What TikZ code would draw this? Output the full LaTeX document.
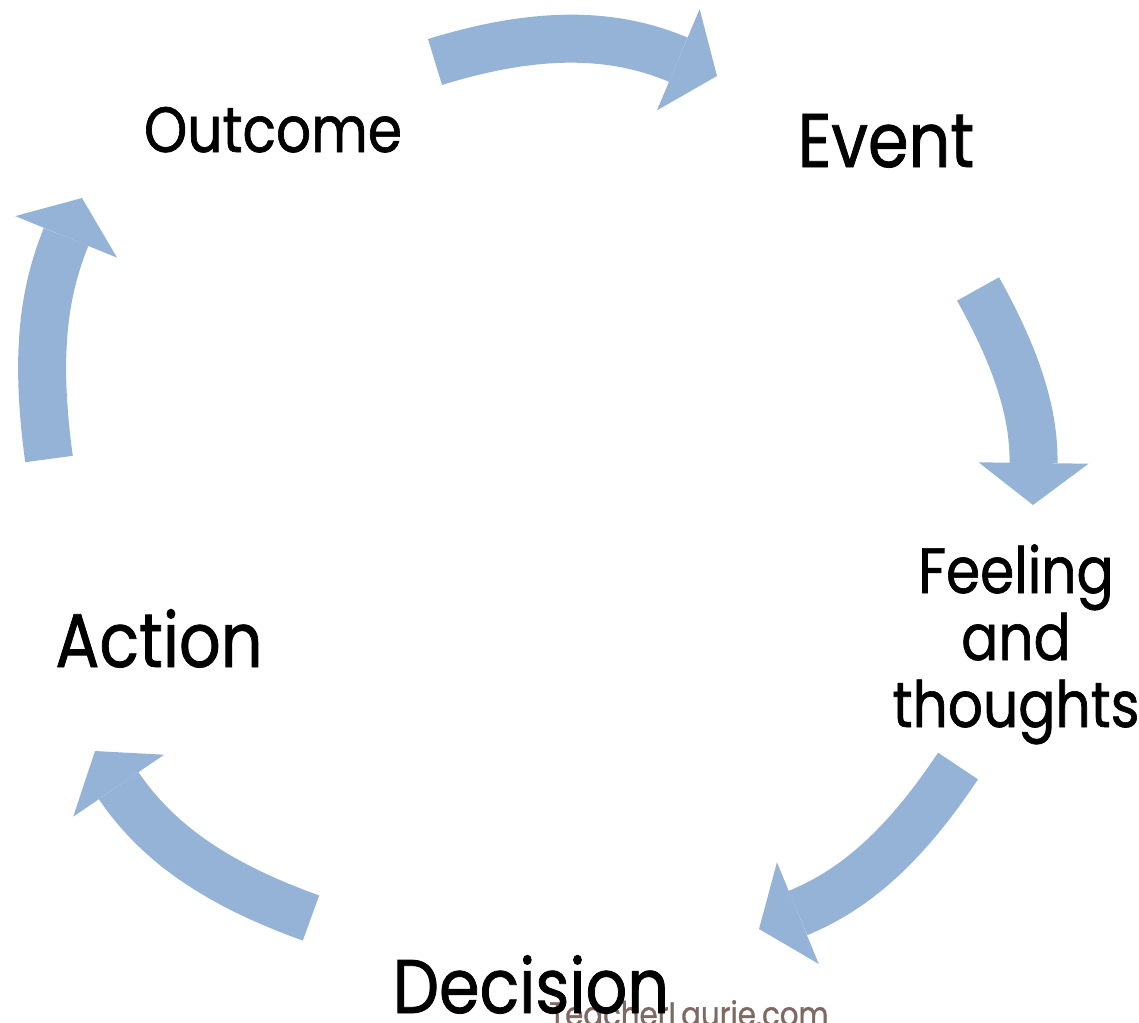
\documentclass[tikz,border=0pt]{standalone}
\usepackage{fontspec}
\setmainfont[FakeStretch=0.86,FakeBold=1]{Poppins}
\usetikzlibrary{arrows.meta}

\definecolor{arrowblue}{HTML}{95B3D7}
\definecolor{markbrown}{HTML}{7D6A62}

\tikzset{
  cyclearrow/.style={draw=arrowblue, line width=48pt,
    -{Triangle[width=110pt,length=42pt,line width=0pt]}},
  biglabel/.style={inner sep=0pt, anchor=base, font=\fontsize{76}{80}\selectfont},
  smalllabel/.style={inner sep=0pt, anchor=base, align=center,
    font=\fontsize{64}{67}\selectfont},
}

\begin{document}
\begin{tikzpicture}[x=1pt,y=-1pt]
  \useasboundingbox (0,0) rectangle (1139,1022);
  \clip (0,0) rectangle (1139,1022);

  % the five steps
  \node[smalllabel] (outcome) at (273,152) {Outcome};
  \node[biglabel] (event) at (886,167) {Event};
  \node[smalllabel] (feeling) at (1016,727) {Feeling\\and\\thoughts};
  \node[inner sep=0pt, anchor=base, text=markbrown,
    font=\fontsize{34}{36}\selectfont] (mark) at (689,1026) {TeacherLaurie.com};
  \node[biglabel] (decision) at (531,1013) {Decision};
  \node[biglabel] (action) at (159,667) {Action};

  % arrow ends
  \coordinate (oe-start) at (435,62);
  \coordinate (oe-end) at (717,76);
  \coordinate (ef-start) at (978,289);
  \coordinate (ef-end) at (1033,505);
  \coordinate (fd-start) at (958,766);
  \coordinate (fd-end) at (759,929);
  \coordinate (da-start) at (311,918);
  \coordinate (da-end) at (95,751);
  \coordinate (ao-start) at (49,459);
  \coordinate (ao-end) at (82,198);

  % the cycle
  \draw[cyclearrow] (oe-start) to[bend left=20] (oe-end);
  \draw[cyclearrow] (ef-start) to[bend left=15] (ef-end);
  \draw[cyclearrow] (fd-start) to[bend left=17] (fd-end);
  \draw[cyclearrow] (da-start) to[bend left=18] (da-end);
  \draw[cyclearrow] (ao-start) to[bend left=15] (ao-end);
\end{tikzpicture}
\end{document}
